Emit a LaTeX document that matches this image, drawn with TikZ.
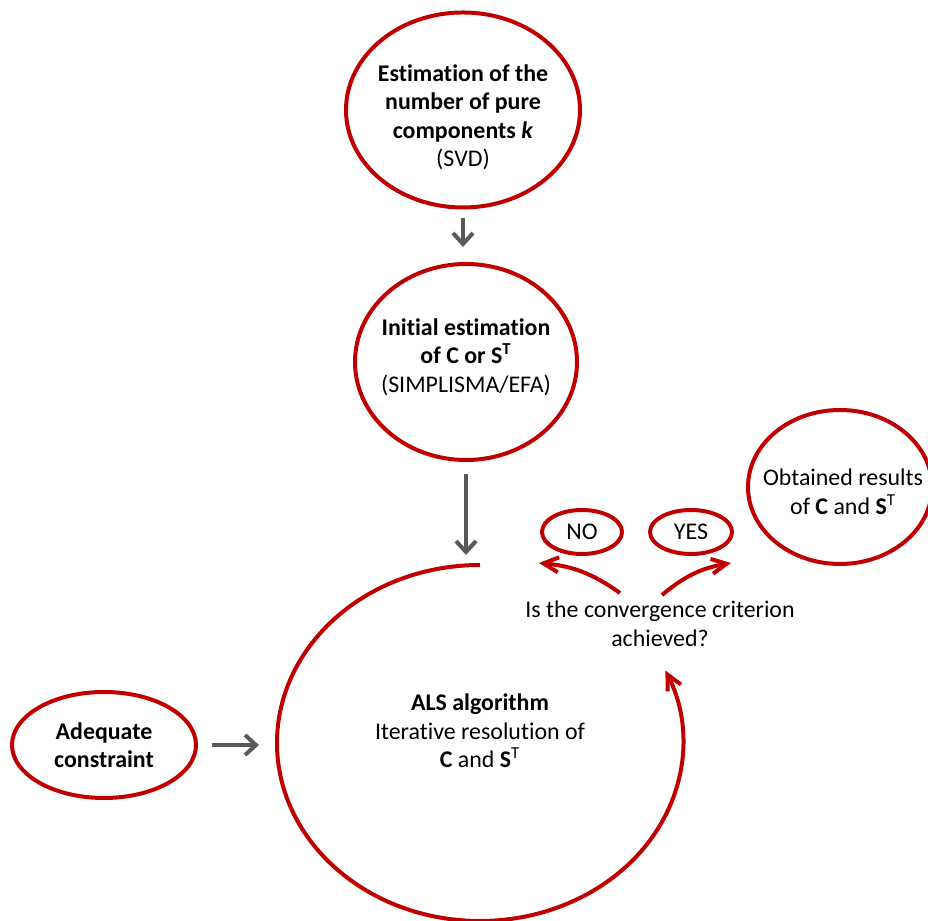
\documentclass[tikz,border=0pt]{standalone}
\usepackage{fontspec}
\setmainfont{Carlito}[Ligatures=NoCommon]
\usetikzlibrary{positioning,shapes.geometric,arrows.meta}
\definecolor{alsred}{RGB}{192,0,0}
\definecolor{arrowgray}{RGB}{89,89,89}

\begin{document}
\begin{tikzpicture}[
        every node/.append style={font=\fontsize{13.6}{16.2}\selectfont,align=center,inner sep=0pt,outer sep=0pt},
        bubble/.style={ellipse,draw=alsred,line width=0.08cm},
        flow/.style={draw=arrowgray,line width=0.08cm,-{Straight Barb[length=0.22cm,width=0.4cm]}},
        loopline/.style={draw=alsred,line width=0.08cm,-{Straight Barb[length=0.3cm,width=0.3cm]}}
    ]
    \useasboundingbox (0,0) rectangle (18.56,18.42);

    \node[bubble,minimum width=4.68cm,minimum height=3.9cm] (svd) at (9.26,16.22) {};
    \node (svdtext) at ([yshift=-0.15cm]svd.center)
        {\textbf{Estimation of the}\\\textbf{number of pure}\\\textbf{components \textit{k}}\\(SVD)};
    \node[bubble,minimum width=4.44cm,minimum height=3.92cm] (init) at (9.32,11.18) {};
    \node (inittext) at ([yshift=0.1cm]init.center)
        {\textbf{Initial estimation}\\\textbf{of C or S\textsuperscript{T}}\\(SIMPLISMA/EFA)};
    \node[ellipse,minimum width=8.12cm,minimum height=7.12cm] (loop) at (9.6,3.56) {};
    \node (als) at ([yshift=0.24cm]loop.center)
        {\textbf{ALS algorithm}\\Iterative resolution of\\\textbf{C} and \textbf{S}\textsuperscript{T}};
    \node[bubble,minimum width=3.68cm,minimum height=2.12cm] (cons) at (2.08,3.52)
        {\textbf{Adequate}\\\textbf{constraint}};
    \node (conv) at (13.2,5.94) {Is the convergence criterion\\achieved?};
    \node[bubble,minimum width=1.6cm,minimum height=0.88cm] (no) at (11.64,7.78) {NO};
    \node[bubble,minimum width=1.64cm,minimum height=0.88cm] (yes) at (13.82,7.78) {YES};
    \node[bubble,minimum width=3.68cm,minimum height=3.08cm] (res) at (16.8,8.68) {};
    \node (restext) at ([shift={(0.06,-0.1)}]res.center)
        {Obtained results\\of \textbf{C} and \textbf{S}\textsuperscript{T}};

    \coordinate (nostart) at (12.4,6.56);
    \coordinate (noend) at (10.78,7.16);
    \coordinate (yesstart) at (13.24,6.52);
    \coordinate (yesend) at (14.62,7.16);

    \draw[flow,shorten <=0.22cm,shorten >=0.34cm] (svd.south) -- (svd.south |- init.north);
    \draw[flow,shorten <=0.28cm,shorten >=0.2cm] (init.south) -- (init.south |- loop.north);
    \draw[flow,shorten <=0.32cm,shorten >=0.36cm] (cons.east) -- (cons.east -| loop.west);

    \draw[loopline] (loop.north) arc[start angle=90,end angle=384,x radius=4.06cm,y radius=3.56cm];
    \draw[loopline] (nostart) to[bend right=15] (noend);
    \draw[loopline] (yesstart) to[bend left=15] (yesend);
\end{tikzpicture}
\end{document}
